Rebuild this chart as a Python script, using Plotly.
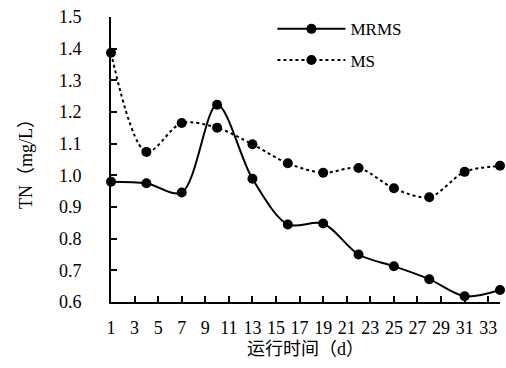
import plotly.graph_objects as go

days = [1, 4, 7, 10, 13, 16, 19, 22, 25, 28, 31, 34]
mrms = [0.980, 0.975, 0.946, 1.223, 0.989, 0.845, 0.848, 0.750, 0.713, 0.672, 0.618, 0.638]
ms = [1.387, 1.074, 1.165, 1.150, 1.098, 1.038, 1.008, 1.023, 0.959, 0.931, 1.011, 1.030]
x_ticks = list(range(1, 34, 2))
y_ticks = [0.6, 0.7, 0.8, 0.9, 1.0, 1.1, 1.2, 1.3, 1.4, 1.5]

SERIF = "Liberation Serif"
CJK = "Liberation Serif, Noto Sans CJK SC"

fig = go.Figure()
fig.add_trace(go.Scatter(
    x=days, y=mrms, name="MRMS", mode="lines+markers", legendgroup="a",
    line=dict(color="black", width=2, shape="spline", smoothing=0.9),
    marker=dict(color="black", size=10),
    cliponaxis=False,
))
fig.add_trace(go.Scatter(
    x=days, y=ms, name="MS", mode="lines+markers", legendgroup="b",
    line=dict(color="black", width=2, dash="dot", shape="spline", smoothing=0.9),
    marker=dict(color="black", size=10),
    cliponaxis=False,
))

fig.update_layout(
    width=506, height=368,
    margin=dict(l=111, r=6, t=17, b=66),
    paper_bgcolor="white", plot_bgcolor="white",
    font=dict(family=SERIF, size=18, color="black"),
    showlegend=True,
    legend=dict(x=0.415, y=1.02, xanchor="left", yanchor="top",
                bgcolor="rgba(0,0,0,0)", itemwidth=68,
                font=dict(family=SERIF, size=17),
                traceorder="grouped", tracegroupgap=6),
)
fig.update_xaxes(
    range=[1, 34], tickvals=x_ticks, ticktext=[str(v) for v in x_ticks],
    showline=True, linecolor="black", linewidth=2, showgrid=False, zeroline=False,
    ticks="inside", ticklen=6, tickwidth=1.5, tickcolor="black",
    ticklabelstandoff=8, tickfont=dict(family=SERIF, size=18),
    title=dict(text="运行时间（d）", font=dict(family=CJK, size=18), standoff=6),
)
fig.update_yaxes(
    range=[0.6, 1.5], tickvals=y_ticks, ticktext=[f"{v:.1f}" for v in y_ticks],
    showline=True, linecolor="black", linewidth=2, showgrid=False, zeroline=False,
    ticks="inside", ticklen=6, tickwidth=1.5, tickcolor="black",
    ticklabelstandoff=24, tickfont=dict(family=SERIF, size=18),
    title=dict(text="TN（mg/L）", font=dict(family=CJK, size=18), standoff=22),
)

fig.write_html("out.html")
